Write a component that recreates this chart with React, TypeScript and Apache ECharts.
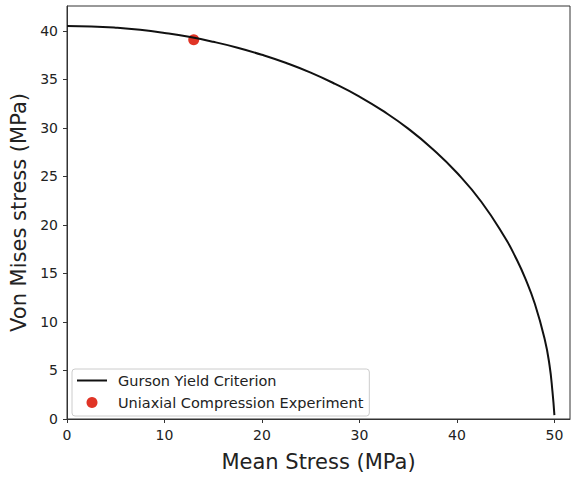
import React, { useEffect, useRef } from "react";
import * as echarts from "echarts";

const meanStress = [0, 2.5, 5, 7.5, 10, 12.5, 15, 17.5, 20, 22.5, 25, 27.5, 30, 32.5, 35, 37.5, 40, 42.5, 45, 46, 47, 48, 49, 49.5, 49.8, 50];
const vonMises = [40.5, 40.46, 40.33, 40.11, 39.79, 39.39, 38.88, 38.27, 37.54, 36.69, 35.7, 34.54, 33.23, 31.7, 29.93, 27.84, 25.38, 22.39, 18.57, 16.7, 14.52, 11.85, 8.24, 5.54, 2.84, 0.4];
const experimentX = [13.0];
const experimentY = [39.1];

const FONT = "DejaVu Sans";

export default function App() {
  const ref = useRef<HTMLDivElement>(null);
  useEffect(() => {
    if (!ref.current) return;
    const chart = echarts.init(ref.current, null, { renderer: "svg" });
    chart.setOption({
      animation: false,
      grid: {
        left: 64.5,
        right: 1,
        top: 6,
        bottom: 55,
        show: true,
        borderColor: "#333",
        borderWidth: 1,
      },
      xAxis: {
        type: "value",
        min: 0,
        max: 51.6,
        interval: 10,
        name: "Mean Stress (MPa)",
        nameLocation: "middle",
        nameGap: 32,
        nameTextStyle: { fontFamily: FONT, fontSize: 21, color: "#222" },
        axisLine: { show: true, onZero: false, lineStyle: { color: "#333", width: 1 } },
        axisTick: { show: true, length: 4, lineStyle: { color: "#333" } },
        axisLabel: {
          fontFamily: FONT,
          fontSize: 14,
          color: "#222",
          margin: 9,
          showMaxLabel: false,
          formatter: (v: number) => (v % 10 === 0 ? String(v) : ""),
        },
        splitLine: { show: false },
      },
      yAxis: {
        type: "value",
        min: 0,
        max: 42.57,
        interval: 5,
        name: "Von Mises stress (MPa)",
        nameLocation: "middle",
        nameGap: 38,
        nameTextStyle: { fontFamily: FONT, fontSize: 21, color: "#222" },
        axisLine: { show: true, onZero: false, lineStyle: { color: "#333", width: 1 } },
        axisTick: { show: true, length: 4, lineStyle: { color: "#333" } },
        axisLabel: {
          fontFamily: FONT,
          fontSize: 14,
          color: "#222",
          margin: 9,
          showMaxLabel: false,
          formatter: (v: number) => (v % 5 === 0 ? String(v) : ""),
        },
        splitLine: { show: false },
      },
      legend: {
        orient: "vertical",
        left: 72,
        top: 369,
        backgroundColor: "#fff",
        borderColor: "#ccc",
        borderWidth: 1,
        borderRadius: 3,
        padding: [4, 6, 6, 5],
        itemWidth: 30,
        itemHeight: 11,
        itemGap: 7,
        textStyle: { fontFamily: FONT, fontSize: 14.5, color: "#222", padding: [0, 0, 0, 6] },
        data: [
          { name: "Gurson Yield Criterion", icon: "path://M0,4.5 L30,4.5 L30,6.5 L0,6.5 Z" },
          { name: "Uniaxial Compression Experiment", icon: "circle" },
        ],
      },
      series: [
        {
          name: "Gurson Yield Criterion",
          type: "line",
          data: meanStress.map((x, i) => [x, vonMises[i]]),
          showSymbol: false,
          smooth: true,
          lineStyle: { color: "#111", width: 2 },
          itemStyle: { color: "#111" },
        },
        {
          name: "Uniaxial Compression Experiment",
          type: "scatter",
          data: experimentX.map((x, i) => [x, experimentY[i]]),
          symbolSize: 11,
          itemStyle: { color: "#e03426", opacity: 1 },
        },
      ],
    });
    return () => chart.dispose();
  }, []);
  return (
    <div
      ref={ref}
      style={{ position: "absolute", left: 0, top: 0, width: 571, height: 477 }}
    />
  );
}
